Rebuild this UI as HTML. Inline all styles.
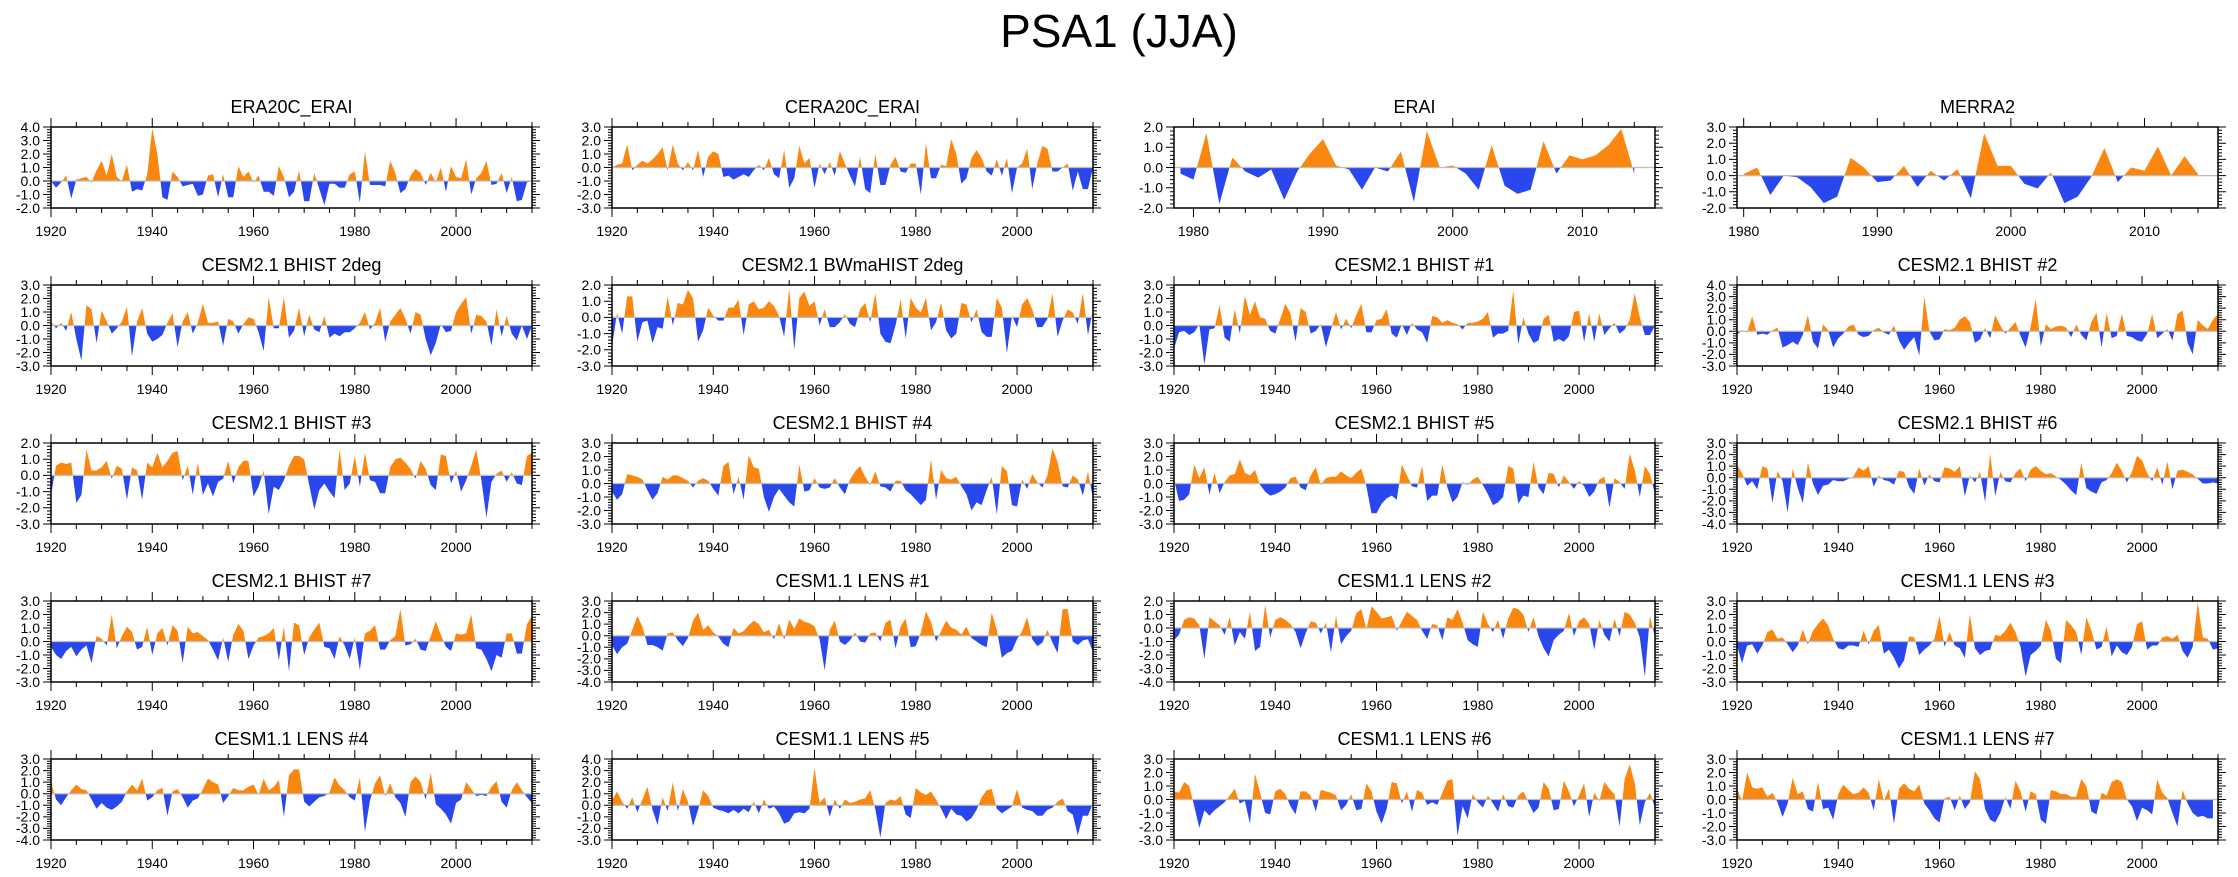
<!DOCTYPE html>
<html><head><meta charset="utf-8"><title>PSA1 (JJA)</title>
<style>
html,body{margin:0;padding:0;background:#fff;}
svg{display:block;font-family:"Liberation Sans",Arial,sans-serif;}
</style></head>
<body>
<svg id="fig" width="2238" height="877" viewBox="0 0 2238 877" xmlns="http://www.w3.org/2000/svg">
<text x="1119" y="47" font-size="46" text-anchor="middle" fill="#000">PSA1 (JJA)</text>
</svg>
<script>
// ---- data ----
const panelTitles = ["ERA20C_ERAI","CERA20C_ERAI","ERAI","MERRA2",
 "CESM2.1 BHIST 2deg","CESM2.1 BWmaHIST 2deg","CESM2.1 BHIST #1","CESM2.1 BHIST #2",
 "CESM2.1 BHIST #3","CESM2.1 BHIST #4","CESM2.1 BHIST #5","CESM2.1 BHIST #6",
 "CESM2.1 BHIST #7","CESM1.1 LENS #1","CESM1.1 LENS #2","CESM1.1 LENS #3",
 "CESM1.1 LENS #4","CESM1.1 LENS #5","CESM1.1 LENS #6","CESM1.1 LENS #7"];
const startYears = [1920,1920,1979,1980,1920,1920,1920,1920,1920,1920,1920,1920,1920,1920,1920,1920,1920,1920,1920,1920];
const yMins = [-2,-3,-2,-2,-3,-3,-3,-3,-3,-3,-3,-4,-3,-4,-4,-3,-4,-3,-3,-3];
const yMaxs = [4,3,2,3,3,2,3,4,2,3,3,3,3,3,2,3,3,4,3,3];

const era20cErai = [0,-0.5,-0.1,0.4,-1.3,0.1,0.2,0.3,-0.1,0.8,1.5,0.4,2.0,0.3,0,1.2,-0.8,-0.6,-0.7,0.5,3.9,2.0,-1.2,-1.4,0.7,0.3,-0.4,-0.3,-0.2,-1.1,-1.0,0.4,0.5,-1.2,0.5,-1.2,-1.2,1.1,0.3,0.7,-0.1,0.4,-0.8,-0.8,-1.1,1.1,0.3,-1.2,-0.8,0.8,-1.5,-1.5,0.6,-0.6,-1.8,-0.2,-0.2,-0.5,-0.5,0.5,0.7,-1.6,2.2,-0.3,-0.3,-0.3,-0.4,1.5,0.6,-0.9,-0.6,0.4,0.9,0.6,-0.3,0.6,-0.1,1.0,-0.8,1.1,0.3,0.2,1.6,-1.0,0.2,0.6,1.5,-0.3,-0.2,0.6,-0.9,0.3,-1.5,-1.4,-0.1,0];
const cera20cErai = [0,0.2,0.3,1.7,-0.2,0.2,0.5,0.3,0.6,1.0,1.5,-0.2,1.7,0.3,-0.2,0.4,-0.2,1.3,-0.7,0.8,1.2,1.0,-0.7,-0.6,-0.9,-0.7,-0.5,-0.7,-0.2,0.2,-0.2,0.7,-0.5,-0.8,1.3,-1.5,-0.8,1.6,0.3,0.7,-1.5,0.3,-0.5,0.4,-0.6,1.2,0.3,-0.6,-1.4,0.8,-1.6,-1.9,1.0,-1.3,-1.3,0.2,0.8,-0.3,-0.4,0.3,0.3,-2.0,1.8,-0.8,-0.8,0.2,0.1,2.1,1.0,-1.2,-0.8,0.7,1.3,0.7,-0.3,-0.6,0.6,-0.6,0.7,-1.9,0,0.3,1.4,-1.6,0.3,1.6,1.4,-0.3,-0.3,0,0.3,-1.7,-0.3,-1.6,-1.6,0];
const erai = [-0.3,-0.6,1.7,-1.8,0.5,-0.2,-0.5,-0.1,-1.6,-0.2,0.7,1.4,0.1,-0.1,-1.1,0,-0.2,0.8,-1.7,1.8,0,0.1,-0.3,-1.1,1.1,-0.9,-1.3,-1.1,1.3,-0.3,0.6,0.4,0.6,1.1,1.9,-0.3];
const merra2 = [0.1,0.5,-1.2,0.0,-0.1,-0.7,-1.7,-1.3,1.1,0.5,-0.4,-0.3,0.6,-0.7,0.3,-0.3,0.4,-1.4,2.6,0.6,0.6,-0.5,-0.8,0.2,-1.7,-1.3,-0.1,1.7,-0.4,0.5,0.3,1.8,0,1.2,0.1];
const bhist2deg = [0.3,-0.2,0.2,-0.4,1.0,-1.0,-2.6,1.5,1.2,-1.3,1.1,0.3,-0.6,-0.2,0.3,1.4,-2.3,0.3,1.3,-0.6,-1.2,-1.0,-0.7,0.2,0.9,-1.6,0.3,1.0,-0.6,0.2,1.6,0.2,0.2,0.3,-1.5,0.5,0.3,-0.6,0.1,0.6,0.5,-0.5,-1.9,2.1,-0.2,-0.2,2.1,-0.9,-0.4,1.3,-0.8,0.8,-0.3,-0.5,0.7,-0.9,-0.6,-0.8,-0.5,-0.5,-0.2,0.2,1.0,-0.3,0.2,1.3,-1.2,0.3,0.8,1.3,0.5,-0.6,1.0,0.8,-1.0,-2.2,-1.3,0.1,-0.5,-0.4,1.0,1.6,2.1,-0.6,0.8,0.7,0.3,-1.5,1.2,-0.8,0.7,-0.6,-1.1,0,-1.0,0];
const bwmahist2deg = [-1.8,0.3,-1.0,1.3,1.3,-1.5,-0.3,-0.2,-1.6,-0.6,-0.7,1.3,-0.5,0.9,0.8,1.7,1.2,-1.5,-0.8,0.6,0.1,-0.2,-0.2,0.6,0.6,1.1,-1.1,0.8,1.0,0.5,0.6,1.0,0.7,0.1,-1.2,1.8,-2.0,1.2,1.6,0.7,1.0,-0.5,0.5,-0.6,-0.6,-0.3,0.2,-0.4,-0.6,0.5,0.9,-0.3,1.5,-1.0,-1.5,-1.6,-0.5,1.1,-1.3,1.2,0.6,0.3,1.2,-0.8,-0.3,0.9,-0.8,-1.3,-1.0,0.9,0.8,-0.3,0.5,-0.9,-1.2,-1.2,1.2,0.6,-2.2,0.1,-0.6,0.8,1.2,0.5,-0.6,-0.6,-0.1,1.5,-1.2,-0.2,0.5,0.3,-0.4,1.5,-1.1,0.5];
const bhist1 = [-1.7,-0.5,-0.4,-0.7,-0.5,0.1,-2.9,-0.3,-0.2,1.5,-0.9,-1.2,1.2,-0.6,2.2,0.8,1.8,0.6,0.5,-0.4,-0.6,0.5,1.6,0.9,-1.2,1.3,1.0,-0.6,-0.4,0.1,-1.6,-0.3,1.0,-0.3,0.5,-0.2,0.8,1.6,-0.5,-0.5,0.4,0.5,1.2,-0.6,-0.9,0.1,-0.7,0.2,-0.3,-0.5,-1.3,0.7,0.6,0.2,0.4,0.2,0.1,-0.3,0.2,0.2,0.3,0.5,1.0,-0.9,-0.6,-0.6,-0.4,2.6,-1.4,0.6,-0.6,-1.3,-1.1,0.5,0.8,-1.2,-1.0,-1.2,-0.8,1.0,1.1,-1.2,0.9,-1.2,0.9,-0.7,-0.2,0.2,-0.6,-0.3,0.4,2.4,0.6,-0.7,-0.7,0];
const bhist2 = [-0.3,0.1,-0.1,1.3,-0.3,-0.2,-0.3,0.1,0.3,-1.4,-1.2,-0.9,-1.2,-0.3,1.4,-0.9,-1.5,0.6,0.1,-1.4,-0.6,-0.2,0.4,0.6,-0.3,-0.5,-0.4,0.1,0.3,-0.1,-0.3,0.5,-0.8,-1.6,-1.0,-0.5,-2.1,3.0,0.0,-0.8,-0.7,0.2,0.1,0.3,1.0,1.3,0.8,-1.0,-0.7,0.3,-0.6,1.4,0.5,-0.2,0.3,0.8,-0.4,-1.4,0.4,2.8,-1.3,0.6,0.2,0.4,0.5,0.3,-0.5,0.6,-0.3,-0.8,0.8,1.6,-1.4,1.6,-0.6,-0.4,1.5,-0.4,-0.5,-0.8,-0.9,-0.2,1.5,-0.6,-0.2,0.2,-0.8,1.5,1.8,-1.0,-2.0,1.0,0.5,0.2,1.0,1.5];
const bhist3 = [-1.2,0.6,0.8,0.7,0.8,-1.7,-1.2,1.6,0.3,0.3,0.5,0.9,-0.2,0.6,0.4,-1.5,0.5,0.3,-1.5,0.8,0.5,1.4,0.5,0.9,1.4,1.5,-0.3,0.6,-1.2,0.8,-1.2,-0.5,-1.3,-0.4,-0.2,0.9,-0.5,0.5,0.9,0.9,-1.3,-0.7,0.3,-2.4,-0.7,-0.9,-0.3,0.6,1.2,1.2,1.0,-0.6,-2.1,-0.9,-0.5,-1.0,-1.4,1.6,-0.9,-0.5,1.2,-0.7,1.4,-0.3,-0.4,-1.1,-1.1,0.5,1.0,1.1,0.8,0.4,-0.2,0.9,0.4,-0.6,-0.9,1.3,1.2,-0.5,0.3,-1.0,-0.3,0.6,1.6,-0.3,-2.6,-0.4,0.1,0.3,-0.4,0.2,-0.5,-0.6,1.2,1.4,-1.5];
const bhist4 = [-0.6,-1.2,-0.8,0.7,0.6,0.5,0.3,-0.5,-1.2,-0.7,0.5,0.3,0.6,0.6,0.4,0.2,-0.3,0.2,0.4,0.2,-0.4,-0.9,1.3,1.6,-0.8,0.5,-1.2,2.1,1.2,1.1,-1.0,-2.1,-1.0,-0.4,-0.9,-1.4,-1.7,1.4,-0.6,-0.5,0.4,-0.3,-0.4,-0.3,0.4,-0.3,-0.8,0.3,0.9,1.3,0.5,-0.1,0.9,-0.2,-0.3,-0.6,0.2,0.2,-0.5,-0.8,-1.2,-1.6,-1.2,1.8,-1.2,1.0,0.4,0.3,0.5,-0.2,-0.8,-2.0,-1.4,-1.6,-0.5,0.5,-2.3,1.3,0.9,-1.6,-1.7,0.3,-0.4,0.7,0.1,-0.3,0.6,2.6,1.6,-0.2,-0.3,0.6,0.3,-0.9,0.9,-1.1,1.0,-0.8,-0.5];
const bhist5 = [0.3,-1.3,-1.2,-0.8,1.4,0.4,1.2,-0.8,0.8,-0.7,0.1,0.6,0.7,1.8,0.8,0.6,1.0,-0.1,-0.6,-0.9,-0.8,-0.6,-0.3,0.4,0.5,-0.3,-0.5,0.6,1.2,-0.1,0.4,0.5,0.5,0.9,0.6,0.4,0.8,1.1,-0.2,-2.2,-2.2,-1.5,-1.1,-0.9,-1.2,1.4,0.6,-0.2,-0.3,1.3,-1.3,-0.9,-0.9,1.4,-0.3,-1.4,-1.0,0.1,-0.1,0.3,0.5,-0.1,-0.8,-1.6,-1.4,-1.0,1.3,1.1,-1.5,-0.9,-1.0,1.6,-0.3,-0.8,0.8,0.7,-0.3,0.6,0.1,-0.4,0.2,-0.2,-1.0,-0.6,0.3,0.5,-1.8,0.4,0.1,-0.4,2.2,1.0,-1.0,1.3,0.7,-0.8,0.3,0.9,1.2,-2.1,1.5];
const bhist6 = [1.1,0.4,-0.7,-0.3,-1.0,1.0,0.8,-2.2,0.6,-0.3,-3.0,0.8,-0.9,-2.2,1.3,-0.5,-1.5,-0.7,-0.6,-0.2,-0.3,-0.3,-0.1,0.1,0.9,0.6,1.0,-0.8,0.2,-0.2,-0.3,-0.6,0.6,0.5,-0.8,-1.4,0.8,-0.7,0.3,-0.3,-0.4,0.9,0.8,0.5,1.0,-1.6,0.2,-0.4,0.5,-2.1,2.1,-1.6,0.5,-0.3,-0.4,0.4,0.8,-0.3,0.7,1.0,0.6,0.3,0.4,0.1,-0.2,-0.6,-1.1,-1.5,1.3,-0.9,-1.2,-1.4,-0.4,-0.2,0.4,1.3,0.6,-0.4,0.5,1.9,1.5,0.4,-0.3,0.9,-0.6,1.4,-1.0,0.6,0.7,0.5,0.3,-0.1,-0.5,-0.5,-0.4,-0.5];
const bhist7 = [-0.4,-1.0,-1.3,-0.7,-0.4,-1.1,-0.6,-0.3,-1.6,0.4,0.2,-0.3,2.0,-0.5,0.4,1.1,0.7,-0.6,-0.4,1.1,-1.0,0.6,1.0,-0.3,1.2,0.8,-1.6,1.1,0.6,0.7,0.4,0.1,-0.6,-1.4,0.3,-1.5,0.5,1.3,0.8,-1.3,-0.3,0.3,0.4,0.6,1.0,-1.4,1.1,-2.2,1.4,1.2,-1.0,0.3,0.9,1.4,-0.4,-0.5,-1.3,0.4,-0.3,-1.3,0.3,-2.1,0.6,0.8,1.2,-0.6,-0.6,0.1,0.4,2.4,-0.3,-0.2,0.2,-0.6,-0.7,0.4,1.5,0.5,-0.4,-0.7,0.6,0.5,0.6,2.0,-0.5,-0.6,-1.3,-2.2,-1.0,-1.2,0.6,0.6,-0.9,-0.9,1.3,1.9];
const lens1 = [-0.8,-1.6,-1.0,-0.7,0.5,1.7,0.8,-0.8,-0.8,-1.0,-1.3,0.2,0.3,-0.4,-0.9,-0.2,1.3,2.0,0.5,0.9,0.3,-0.1,-0.7,-1.0,0.7,0.2,0.4,0.9,1.3,1.0,0.3,0.5,-0.3,1.1,-0.3,1.4,0.6,1.5,1.2,1.1,0.8,-0.3,-3.0,0.5,1.3,-0.5,-0.8,-0.4,0.3,-0.5,-0.6,0.2,0.3,-0.5,1.1,1.4,-1.1,0.8,1.5,-1.0,-0.9,0.3,2.1,1.2,-0.5,0.4,1.3,0.7,0.5,0.1,0.8,-0.2,-0.5,-0.8,-1.0,2.0,0.5,-1.9,-1.5,-1.3,-0.3,0.4,1.6,-0.3,-0.9,-0.6,0.5,-0.6,-1.5,2.3,2.3,-0.5,-0.8,-0.4,-0.3,-1.4];
const lens2 = [-0.9,-0.5,0.6,0.8,0.7,0.2,-2.3,0.8,0.5,0.2,-0.5,0.8,-1.3,-0.3,-0.8,1.2,-1.7,-1.4,1.7,-0.7,0.6,0.8,0.6,0.3,-0.3,-1.5,-0.4,0.5,0.4,-0.4,0.4,-1.8,0.9,-1.2,-0.6,-0.2,1.1,1.4,-0.1,1.6,1.2,0.7,0.8,0.9,-0.2,0.5,1.2,0.9,0.6,-0.2,-0.8,0.3,0.2,-0.9,0.8,0.6,1.4,0.4,-0.9,-1.2,-1.4,1.2,0.3,-0.3,0.6,-0.8,0.7,1.5,1.4,1.0,-0.3,0.8,-0.6,-1.5,-2.1,-0.9,-0.5,-0.2,1.1,-0.6,0.5,0.8,0.3,-1.6,0.6,-0.5,-1.0,0.7,-0.6,1.2,1.0,0.4,-0.7,-3.6,0.9,-0.7,-0.9,0.1];
const lens3 = [-0.3,-1.6,-0.3,-0.2,-0.9,-0.3,0.7,0.9,0.2,0.3,-0.2,-0.8,-0.3,0.9,-0.2,0.8,1.3,1.7,1.2,0.2,-0.5,-0.6,-0.3,-0.3,-0.4,0.8,-0.2,0.8,1.2,-0.9,-0.6,-1.2,-2.0,-1.4,0.4,0.3,-1.0,-0.6,-0.3,0.2,1.9,-0.4,0.7,-0.3,-0.5,-1.2,2.0,-0.5,-1.0,-0.7,-0.6,0.5,0.4,0.8,1.4,0.7,-0.4,-2.6,-1.0,-0.7,-0.3,1.6,0.8,-1.3,-1.6,1.6,1.2,0.7,-1.0,1.8,0.8,-0.6,-0.4,1.1,-1.1,-0.3,-0.8,-1.0,-0.4,1.3,1.5,-0.6,-0.3,-0.3,0.3,0.4,0.2,0.5,-0.7,-1.2,-0.4,2.9,0.3,0.2,-0.6,-0.5];
const lens4 = [1.0,-0.5,-1.0,-0.3,0.3,0.8,0.4,0.3,-0.5,-1.3,-0.8,-1.2,-1.4,-1.1,-0.7,0.2,0.8,0.3,1.3,-0.6,-0.3,0.3,0.5,-1.9,0.2,0.4,-0.3,-1.2,-0.6,-0.4,0.4,1.3,1.0,0.8,-0.8,-0.2,0.5,0.3,0.3,0.6,0.8,-0.1,1.3,0.3,0.6,1.2,-2.0,1.6,2.1,2.1,-0.7,-1.1,-0.7,-0.3,-0.2,0.1,1.4,0.7,0.3,-0.3,-0.6,1.4,-3.3,-0.6,0.9,1.6,-0.2,0.9,-0.3,-0.8,-2.0,1.0,1.5,1.0,-0.5,1.8,-0.9,-1.3,-1.8,-2.6,-0.8,-0.5,1.0,0.4,-0.2,-0.1,-0.2,0.6,1.1,-0.7,-1.2,0.3,1.0,0.3,-0.3,-0.8];
const lens5 = [0.4,1.2,0.3,-0.3,0.7,-0.6,0.5,1.6,-0.4,-1.7,0.7,-0.5,2.0,-0.5,1.4,0.3,-1.8,-0.4,1.3,0.8,-0.2,-0.4,-0.5,-0.7,-0.4,-0.7,-0.3,-0.6,0.3,-0.7,0.5,-0.3,-0.1,-0.7,-1.6,-1.4,-0.7,-0.6,-0.7,-0.3,3.2,0.2,0.7,-1.0,0.5,-0.3,0.5,0.2,0.3,0.5,0.6,1.3,-0.3,-2.8,0.2,0.5,0.4,0.8,-0.8,-1.1,1.5,1.1,0.9,1.2,0.5,-0.3,-1.2,-0.3,-0.8,-0.9,-1.4,-1.1,-0.4,0.7,1.3,1.4,-0.3,-0.7,-0.4,-0.1,1.4,-0.2,-0.4,-0.5,-0.9,-0.9,-0.4,-0.2,0.3,0.6,-0.5,-0.8,-2.6,-0.9,-0.9,0.2];
const lens6 = [0.6,0.5,1.3,1.0,-0.5,-2.1,-0.8,-1.2,-0.8,-0.5,-0.2,0.3,0.8,-0.3,-0.1,-1.8,1.9,0.5,-1.0,-1.1,0.6,0.8,0.4,-0.5,-1.1,0.6,0.6,0.3,-0.9,0.7,0.6,0.5,0.3,-0.8,-0.4,0.4,-0.8,-0.7,1.2,0.6,-0.9,-1.8,-0.7,1.3,1.2,-0.3,0.6,-0.9,0.7,0.5,-0.4,-0.2,-0.4,0.5,1.4,1.5,-2.7,-0.5,-1.4,0.4,-0.2,-0.6,0.3,-0.3,-0.9,0.4,-0.5,-0.6,0.3,0.6,-0.2,-1.0,-0.6,1.3,0.8,-0.8,-0.7,1.4,0.6,-0.5,0.3,1.2,-1.3,0.5,-0.1,1.3,0.8,0.4,-2.0,1.5,2.6,1.2,-1.9,-0.2,0.5,-0.6];
const lens7 = [0.8,-0.1,2.0,0.9,0.8,0.9,0.2,0.5,-0.2,-1.3,-0.3,1.6,0.4,0.6,-0.7,-0.9,1.3,-0.7,-0.6,-1.5,0.4,1.1,0.7,0.4,0.5,0.9,0.5,-0.8,1.5,-0.1,0.8,-1.8,0.8,1.2,0.8,0.6,1.1,-0.3,-0.8,-1.4,-1.7,0.1,0.2,-0.8,0.3,-0.7,-0.2,2.1,1.5,-0.7,-1.5,-1.7,-1.0,0.2,-0.7,1.4,0.6,-0.9,0.6,0.4,-1.5,-1.8,0.7,0.6,0.4,0.4,0.2,0.2,1.5,1.0,-0.9,-1.1,0.5,0.3,1.3,1.5,1.3,0.0,-0.5,-1.6,-0.6,-0.8,-1.1,1.5,0.5,0.1,-1.0,-2.0,0.7,-0.3,-1.0,-1.3,-1.2,-1.4,-1.4];

const seriesList = [era20cErai,cera20cErai,erai,merra2,bhist2deg,bwmahist2deg,bhist1,bhist2,bhist3,bhist4,bhist5,bhist6,bhist7,lens1,lens2,lens3,lens4,lens5,lens6,lens7];

// ---- drawing ----
const NS = "http://www.w3.org/2000/svg";
const svg = document.getElementById("fig");
const colLefts = [51,612,1174,1737];
const boxW = 481, boxH = 81, rowTop0 = 127, rowStep = 158;
const ORANGE = "#fb870f", BLUE = "#2a47ee";

function mk(tag, attrs, parent){
  const e = document.createElementNS(NS, tag);
  for (const k in attrs) e.setAttribute(k, attrs[k]);
  (parent||svg).appendChild(e);
  return e;
}

seriesList.forEach((vals, p) => {
  const col = p % 4, row = Math.floor(p/4);
  const L = colLefts[col], T = rowTop0 + row*rowStep, W = boxW, H = boxH;
  const start = startYears[p];
  let xmin, xmax, majorStep, minorStep, firstMajor;
  if (start === 1979){ xmin = 1978.5; xmax = 2015.6; majorStep = 10; minorStep = 2; firstMajor = 1980; }
  else if (start === 1980){ xmin = 1979.5; xmax = 2015.5; majorStep = 10; minorStep = 2; firstMajor = 1980; }
  else { xmin = 1920; xmax = 2015; majorStep = 20; minorStep = 5; firstMajor = 1920; }
  const ymin = yMins[p], ymax = yMaxs[p];
  const xs = yr => L + (yr - xmin)/(xmax - xmin)*W;
  const ys = v => T + (ymax - v)/(ymax - ymin)*H;

  const g = mk("g", {});
  
  

  const title = mk("text", {x: L + W/2, y: T - 14, "font-size": 18, "text-anchor": "middle", fill: "#000"}, g);
  title.textContent = panelTitles[p];
  
  

  const y0 = ys(0);
  const cpPos = mk("clipPath", {id: "cpp"+p}, g);
  mk("rect", {x: L, y: T, width: W, height: Math.max(0, y0 - T)}, cpPos);
  const cpNeg = mk("clipPath", {id: "cpn"+p}, g);
  mk("rect", {x: L, y: y0, width: W, height: Math.max(0, T + H - y0)}, cpNeg);

  let d = "M" + xs(start).toFixed(2) + "," + y0.toFixed(2);
  vals.forEach((v, i) => { d += " L" + xs(start + i).toFixed(2) + "," + ys(v).toFixed(2); });
  d += " L" + xs(start + vals.length - 1).toFixed(2) + "," + y0.toFixed(2) + " Z";

  const pos = mk("path", {d: d, fill: ORANGE, "clip-path": "url(#cpp"+p+")"}, g);
  
  
  const neg = mk("path", {d: d, fill: BLUE, "clip-path": "url(#cpn"+p+")"}, g);
  
  

  const zl = mk("line", {x1: L, x2: L + W, y1: y0, y2: y0, stroke: "#bdbdbd", "stroke-width": 1.2}, g);
  
  

  const box = mk("rect", {x: L, y: T, width: W, height: H, fill: "none", stroke: "#000", "stroke-width": 1.5}, g);
  
  

  let tickD = "";
  for (let yr = Math.ceil(xmin/minorStep)*minorStep; yr <= xmax + 0.01; yr += minorStep){
    const x = xs(yr);
    const major = ((yr - firstMajor) % majorStep) === 0 && yr >= firstMajor;
    const len = major ? 9 : 5;
    tickD += "M"+x.toFixed(2)+","+T+" V"+(T-len)+" M"+x.toFixed(2)+","+(T+H)+" V"+(T+H+len)+" ";
    if (major){
      const lb = mk("text", {x: x, y: T + H + 28, "font-size": 14, "text-anchor": "middle", fill: "#000"}, g);
      lb.textContent = yr;
      
      
    }
  }
  for (let k = 0; k <= (ymax - ymin)*5; k++){
    const v = ymin + k*0.2;
    const y = ys(v);
    const major = (k % 5) === 0;
    const len = major ? 8 : 4;
    tickD += "M"+L+","+y.toFixed(2)+" H"+(L-len)+" M"+(L+W)+","+y.toFixed(2)+" H"+(L+W+len)+" ";
    if (major){
      const lb = mk("text", {x: L - 11, y: y + 4.8, "font-size": 14, "text-anchor": "end", fill: "#000"}, g);
      lb.textContent = v.toFixed(1);
      
      
    }
  }
  const ticks = mk("path", {d: tickD, stroke: "#000", "stroke-width": 1, fill: "none"}, g);
  
  
});
</script>
</body></html>
